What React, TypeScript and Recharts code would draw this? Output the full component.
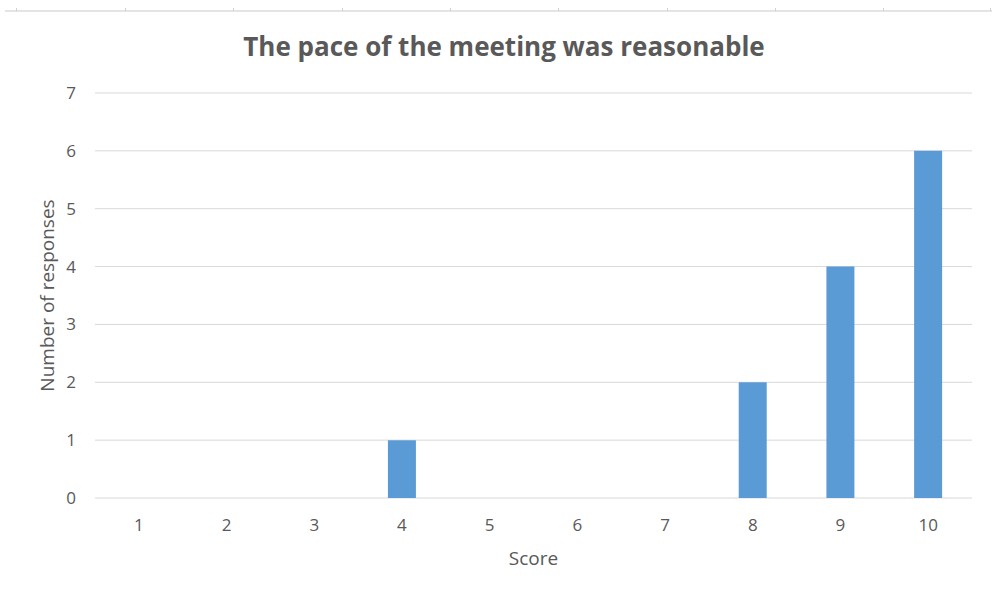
import { BarChart, Bar, XAxis, YAxis, CartesianGrid, Label } from "recharts"

const scores = ["1", "2", "3", "4", "5", "6", "7", "8", "9", "10"]
const responses = [0, 0, 0, 1, 0, 0, 0, 2, 4, 6]
const yTicks = [0, 1, 2, 3, 4, 5, 6, 7]

const title = "The pace of the meeting was reasonable"
const xTitle = "Score"
const yTitle = "Number of responses"

const data = scores.map((s, i) => ({ score: s, count: responses[i] }))

const textColor = "#595959"
const font = "'Open Sans', 'DejaVu Sans', sans-serif"

// faint sheet border with little notch marks along the top
const notches = [16, 125, 233, 342, 450, 558, 667, 775, 883, 990]

export default function App() {
  return (
    <div style={{ position: "absolute", left: 0, top: 0, width: 992, height: 609, background: "#fff" }}>
      <div style={{ position: "absolute", left: 5, top: 10, width: 987, height: 2, background: "#e4e4e4" }} />
      {notches.map((x) => (
        <div key={x} style={{ position: "absolute", left: x, top: 8, width: 1, height: 3, background: "#d0d0d0" }} />
      ))}
      <div
        style={{
          position: "absolute",
          left: 8,
          top: 28,
          width: 992,
          textAlign: "center",
          fontFamily: font,
          fontWeight: 700,
          fontSize: 26,
          color: textColor,
        }}
      >
        {title}
      </div>
      <div style={{ position: "absolute", left: 0, top: 0 }}>
        <BarChart
          width={992}
          height={609}
          data={data}
          barCategoryGap="34%"
          margin={{ top: 93, right: 20, left: 0, bottom: 81 }}
        >
          <CartesianGrid vertical={false} stroke="#d9d9d9" strokeWidth={1} />
          <XAxis
            dataKey="score"
            axisLine={false}
            tickLine={false}
            height={30}
            tickMargin={15}
            tick={{ fill: textColor, fontSize: 17, fontFamily: font }}
          >
            <Label value={xTitle} position="bottom" offset={24} fill={textColor} fontSize={19} fontFamily={font} />
          </XAxis>
          <YAxis
            domain={[0, 7]}
            ticks={yTicks}
            interval={0}
            width={95}
            axisLine={false}
            tickLine={false}
            tickMargin={13}
            tick={{ fill: textColor, fontSize: 17, fontFamily: font }}
          >
            <Label
              value={yTitle}
              angle={-90}
              position="insideLeft"
              offset={47}
              style={{ textAnchor: "middle" }}
              fill={textColor}
              fontSize={19}
              fontFamily={font}
            />
          </YAxis>
          <Bar dataKey="count" fill="#5b9bd5" isAnimationActive={false} />
        </BarChart>
      </div>
    </div>
  )
}
